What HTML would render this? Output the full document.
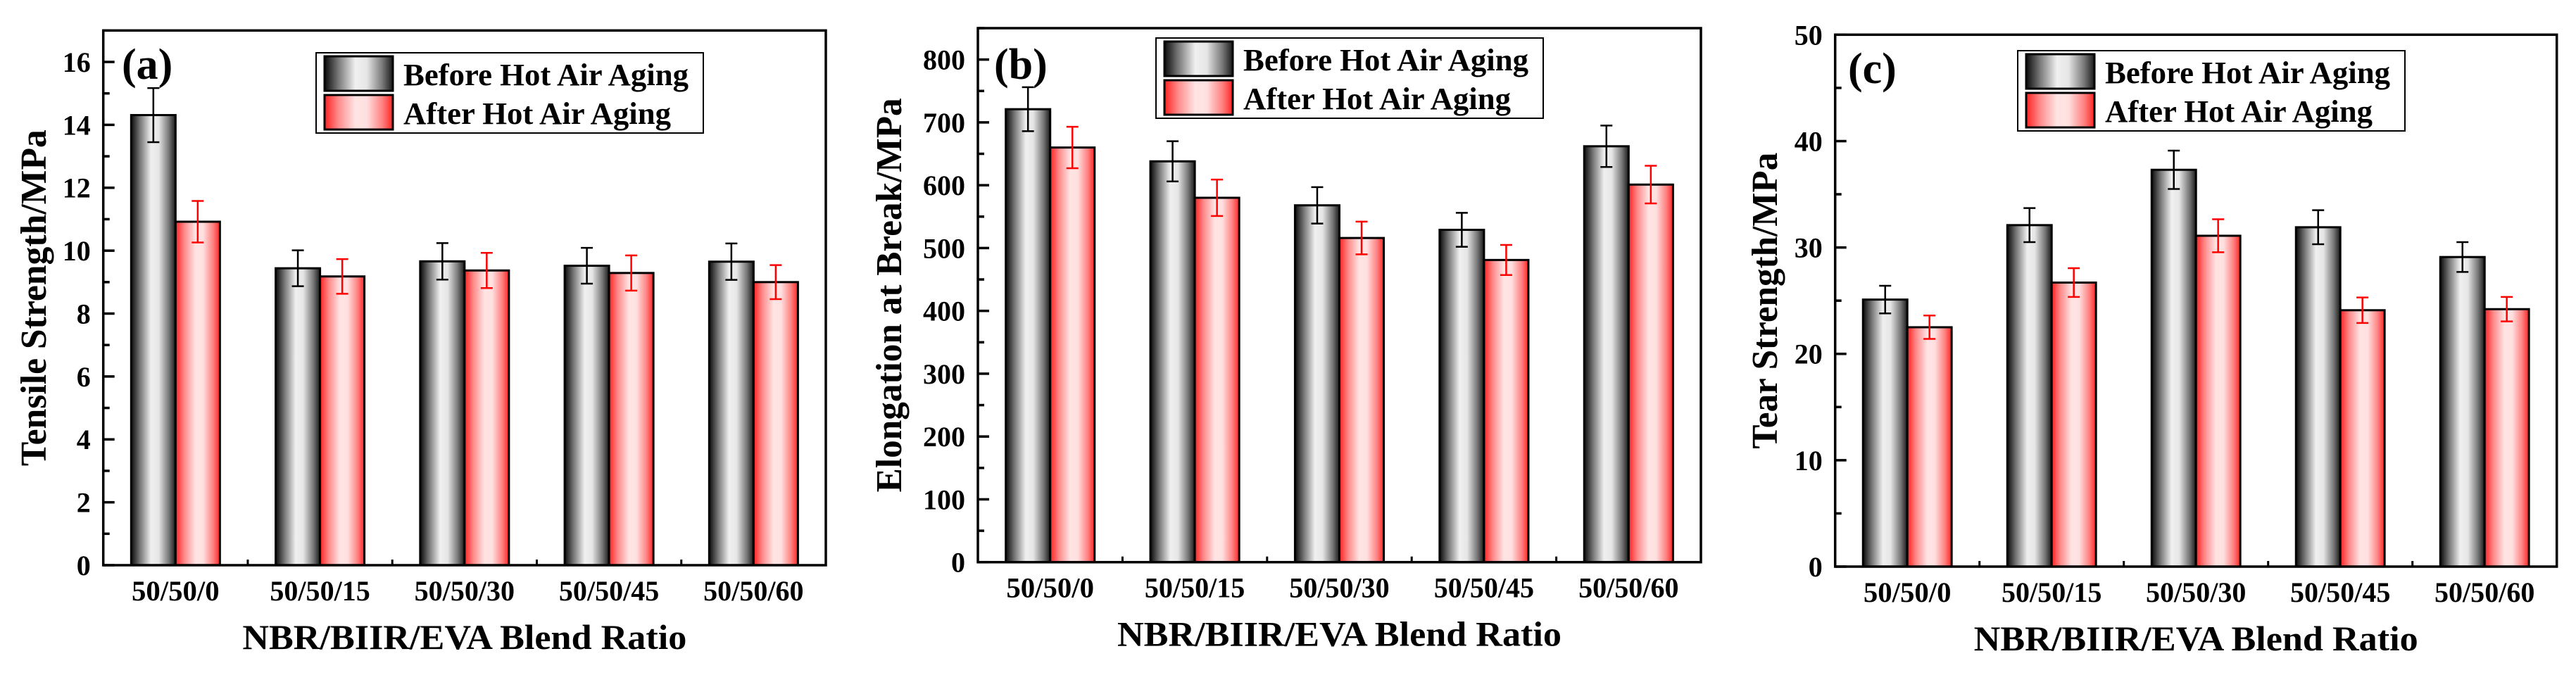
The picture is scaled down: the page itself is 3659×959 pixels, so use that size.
<!DOCTYPE html>
<html><head><meta charset="utf-8"><style>
html,body{margin:0;padding:0;background:#fff;}
svg{display:block;font-family:"Liberation Serif",serif;font-weight:bold;}
</style></head><body>
<svg id="fig" width="3659" height="959" viewBox="0 0 3659 959" xmlns="http://www.w3.org/2000/svg">
<defs>
<linearGradient id="gBlack" x1="0" x2="1" y1="0" y2="0">
<stop offset="0" stop-color="#0a0a0a"/><stop offset="0.2" stop-color="#777"/><stop offset="0.45" stop-color="#f0f0f0"/><stop offset="0.62" stop-color="#e6e6e6"/><stop offset="0.85" stop-color="#777"/><stop offset="1" stop-color="#1a1a1a"/>
</linearGradient>
<linearGradient id="gRed" x1="0" x2="1" y1="0" y2="0">
<stop offset="0" stop-color="#ff2020"/><stop offset="0.2" stop-color="#ff8a8a"/><stop offset="0.45" stop-color="#ffe4e4"/><stop offset="0.62" stop-color="#ffe0e0"/><stop offset="0.85" stop-color="#ff8080"/><stop offset="1" stop-color="#ff2424"/>
</linearGradient>
</defs>
</svg>
<script>
const categories = ["50/50/0","50/50/15","50/50/30","50/50/45","50/50/60"];
const tensileBefore = [14.31, 9.44, 9.66, 9.52, 9.65];
const tensileBeforeErr = [0.86, 0.57, 0.58, 0.57, 0.58];
const tensileAfter = [10.92, 9.18, 9.37, 9.29, 9.00];
const tensileAfterErr = [0.66, 0.55, 0.56, 0.56, 0.54];
const tensileTicks = [0,2,4,6,8,10,12,14,16];
const elongBefore = [721, 638, 568, 529, 662];
const elongBeforeErr = [35, 32, 29, 27, 33];
const elongAfter = [660, 580, 516, 481, 601];
const elongAfterErr = [33, 29, 26, 24, 30];
const elongTicks = [0,100,200,300,400,500,600,700,800];
const tearBefore = [25.1, 32.1, 37.3, 31.9, 29.1];
const tearBeforeErr = [1.3, 1.6, 1.8, 1.6, 1.4];
const tearAfter = [22.5, 26.7, 31.1, 24.1, 24.2];
const tearAfterErr = [1.1, 1.35, 1.55, 1.2, 1.15];
const tearTicks = [0,10,20,30,40,50];

const panels = [
 {id:"a", label:"(a)", title:"Tensile Strength/MPa", titleLen:478, L:146.7, R:1173, T:43.3, B:803, ymax:17, minorStep:1, ticks:tensileTicks,
  before:tensileBefore, beforeErr:tensileBeforeErr, after:tensileAfter, afterErr:tensileAfterErr,
  legX:449, legY:75, titleX:47, labX:173, labY:112},
 {id:"b", label:"(b)", title:"Elongation at Break/MPa", titleLen:560, L:1389, R:2416, T:40, B:798.7, ymax:850, minorStep:50, ticks:elongTicks,
  before:elongBefore, beforeErr:elongBeforeErr, after:elongAfter, afterErr:elongAfterErr,
  legX:1642, legY:54, titleX:1262, labX:1412, labY:112},
 {id:"c", label:"(c)", title:"Tear Strength/MPa", titleLen:421, L:2606.7, R:3631.7, T:49.3, B:805, ymax:50, minorStep:5, ticks:tearTicks,
  before:tearBefore, beforeErr:tearBeforeErr, after:tearAfter, afterErr:tearAfterErr,
  legX:2866, legY:72, titleX:2506, labX:2625, labY:118}
];

const NS="http://www.w3.org/2000/svg";
const svg=document.getElementById("fig");
function mk(tag, attrs, parent){
  const e=document.createElementNS(NS,tag);
  for(const k in attrs) e.setAttribute(k,attrs[k]);
  (parent||svg).appendChild(e); return e;
}

panels.forEach(p=>{
  const g=mk("g",{});
  
  
  const yS=v=>p.B-(v/p.ymax)*(p.B-p.T);
  const n=categories.length, cw=(p.R-p.L)/n, bw=cw*0.307;
  const xC=i=>p.L+(i+0.5)*cw;

  const series=[{vals:p.before,err:p.beforeErr,fill:"url(#gBlack)",ec:"#000",name:"before"},
                {vals:p.after,err:p.afterErr,fill:"url(#gRed)",ec:"#ff0000",name:"after"}];
  series.forEach((s,si)=>{
    s.vals.forEach((v,i)=>{
      const x=si===0?xC(i)-bw:xC(i);
      const r=mk("rect",{x:x,y:yS(v),width:bw,height:p.B-yS(v),fill:s.fill,stroke:"#000","stroke-width":3},g);
      
      
    });
  });
  series.forEach((s,si)=>{
    s.vals.forEach((v,i)=>{
      const cx=si===0?xC(i)-bw/2:xC(i)+bw/2;
      const hi=yS(v+s.err[i]), lo=yS(v-s.err[i]);
      const eg=mk("g",{stroke:s.ec,"stroke-width":2.5,fill:"none"},g);
      
      
      mk("line",{x1:cx,x2:cx,y1:hi,y2:lo},eg);
      mk("line",{x1:cx-8.5,x2:cx+8.5,y1:hi,y2:hi},eg);
      mk("line",{x1:cx-8.5,x2:cx+8.5,y1:lo,y2:lo},eg);
    });
  });

  const fr=mk("rect",{x:p.L,y:p.T,width:p.R-p.L,height:p.B-p.T,fill:"none",stroke:"#000","stroke-width":3.5},g);
  
  

  for(let v=0; v<=p.ymax+1e-9; v+=p.minorStep){
    const major=p.ticks.indexOf(v)>=0;
    mk("line",{x1:p.L,x2:p.L+(major?16:9),y1:yS(v),y2:yS(v),stroke:"#000","stroke-width":3.5},g);
  }
  p.ticks.forEach(v=>{
    const t=mk("text",{x:p.L-18,y:yS(v)+14,"text-anchor":"end","font-size":40},g);
    t.textContent=v;
    
    
  });
  for(let i=1;i<n;i++){
    mk("line",{x1:p.L+i*cw,x2:p.L+i*cw,y1:p.B,y2:p.B-8,stroke:"#000","stroke-width":3},g);
  }
  categories.forEach((c,i)=>{
    const t=mk("text",{x:xC(i),y:p.B+50,"text-anchor":"middle","font-size":40,textLength:c.length*17.8,lengthAdjust:"spacingAndGlyphs"},g);
    t.textContent=c;
    
    
  });
  const xt=mk("text",{x:(p.L+p.R)/2,y:p.B+119,"text-anchor":"middle","font-size":50,textLength:631,lengthAdjust:"spacingAndGlyphs"},g);
  xt.textContent="NBR/BIIR/EVA Blend Ratio";
  
  
  const yc=(p.T+p.B)/2;
  const yt=mk("text",{x:p.titleX,y:yc,"text-anchor":"middle","font-size":52,textLength:p.titleLen,lengthAdjust:"spacingAndGlyphs",transform:"rotate(-90 "+p.titleX+" "+yc+") translate(0 18)"},g);
  yt.textContent=p.title;
  
  
  const pl=mk("text",{x:p.labX,y:p.labY,"font-size":62},g);
  pl.textContent=p.label;
  
  

  const lg=mk("g",{},g);
  
  
  mk("rect",{x:p.legX,y:p.legY,width:550,height:114,fill:"#fff",stroke:"#000","stroke-width":2},lg);
  const items=[["url(#gBlack)","Before Hot Air Aging",405],["url(#gRed)","After Hot Air Aging",380]];
  items.forEach((it,k)=>{
    const ey=p.legY+5+k*55;
    const e=mk("g",{},lg);
    
    
    mk("rect",{x:p.legX+12,y:ey,width:97,height:49,fill:it[0],stroke:"#000","stroke-width":3},e);
    const t=mk("text",{x:p.legX+124,y:ey+41,"font-size":44,textLength:it[2],lengthAdjust:"spacingAndGlyphs"},e);
    t.textContent=it[1];
  });
});
</script>
</body></html>
